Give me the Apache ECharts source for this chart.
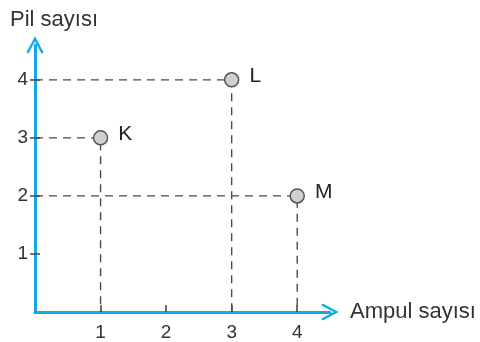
<!DOCTYPE html>
<html>
<head>
<meta charset="utf-8">
<script src="https://cdn.jsdelivr.net/npm/echarts@6/dist/echarts.min.js"></script>
<style>
  html, body { margin: 0; padding: 0; background: #fff; }
  #chart { width: 480px; height: 342px; }
</style>
</head>
<body>
<div id="chart"></div>
<script>
// points
const names = ['K', 'L', 'M'];
const ampul = [1, 3, 4];   // x: Ampul sayısı
const pil = [3, 4, 2];     // y: Pil sayısı
const xTicks = [1, 2, 3, 4];
const yTicks = [1, 2, 3, 4];

const blue = '#15a7e8';
const dark = '#444';
const font = 'Liberation Sans, Arial, sans-serif';
// open chevron arrow, pointing up
const arrow = 'path://M8,0 L16,15 L14.2,16.4 L8,4.6 L1.8,16.4 L0,15 Z';

const chart = echarts.init(document.getElementById('chart'));

const dashSeries = names.map((n, i) => ({
  type: 'line',
  symbol: 'none',
  silent: true,
  z: 1,
  lineStyle: { color: '#4a4a4a', width: 1.4, type: [8, 6] },
  data: [[0, pil[i]], [ampul[i], pil[i]], [ampul[i], 0]]
}));

chart.setOption({
  animation: false,
  grid: { left: 35, right: 150, top: 45, bottom: 30, containLabel: false, outerBoundsMode: 'none' },
  xAxis: {
    type: 'value', min: 0, max: 4.5, interval: 1,
    name: 'Ampul sayısı', nameLocation: 'end', nameGap: 20,
    nameTextStyle: { color: '#333', fontSize: 22, fontFamily: font },
    splitLine: { show: false },
    axisLine: { lineStyle: { color: blue, width: 3 }, symbol: ['none', arrow], symbolSize: [17, 18], symbolOffset: [0, 0] },
    axisTick: { inside: true, length: 7, customValues: xTicks, lineStyle: { color: dark, width: 1.5 } },
    axisLabel: { customValues: xTicks, margin: 11, color: '#333', fontSize: 19, fontFamily: font }
  },
  yAxis: [{
    type: 'value', min: 0, max: 4.6, interval: 1,
    name: 'Pil sayısı', nameLocation: 'end', nameGap: 14,
    nameTextStyle: { color: '#333', fontSize: 22, fontFamily: font, align: 'left', padding: [0, 0, 0, -25] },
    splitLine: { show: false },
    axisLine: { lineStyle: { color: blue, width: 3 }, symbol: ['none', arrow], symbolSize: [17, 18], symbolOffset: [0, 0] },
    axisTick: { length: 5, customValues: yTicks, lineStyle: { color: dark, width: 1.5 } },
    axisLabel: { customValues: yTicks, margin: 7, color: '#333', fontSize: 19, fontFamily: font }
  }, {
    type: 'value', min: 0, max: 4.6, interval: 1, position: 'left',
    splitLine: { show: false },
    axisLine: { show: false },
    axisTick: { inside: true, length: 5, customValues: yTicks, lineStyle: { color: dark, width: 1.5 } },
    axisLabel: { show: false }
  }],
  series: dashSeries.concat([{
    type: 'scatter',
    z: 3,
    symbolSize: 14,
    itemStyle: { color: '#d0d0d0', borderColor: '#555', borderWidth: 1.5, opacity: 1 },
    label: {
      show: true, position: 'right', distance: 10, offset: [0, -4],
      formatter: p => p.name,
      color: '#222', fontSize: 21, fontFamily: font
    },
    data: names.map((n, i) => ({ name: n, value: [ampul[i], pil[i]] }))
  }])
});
</script>
</body>
</html>
